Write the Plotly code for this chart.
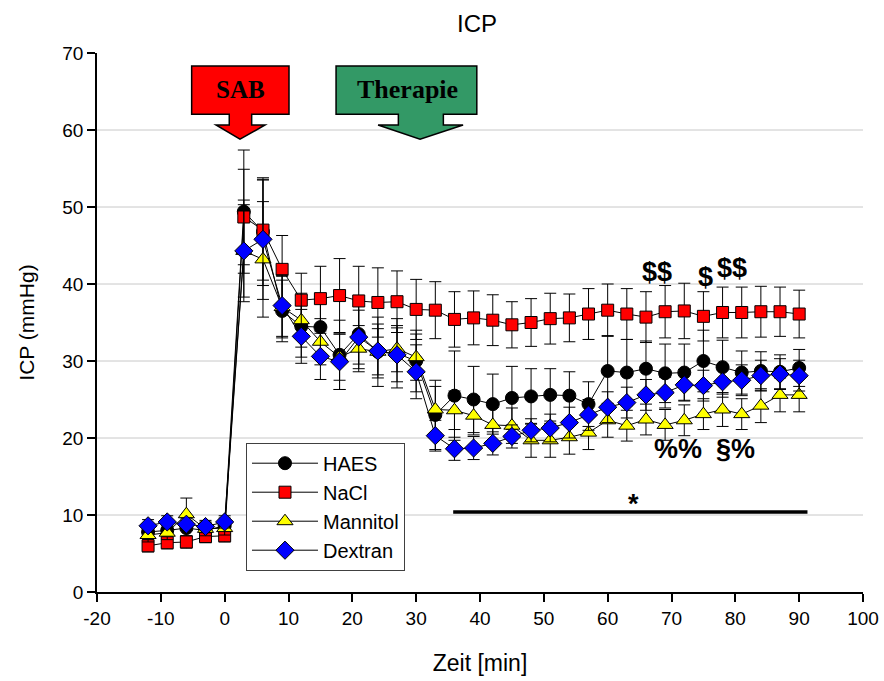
import plotly.graph_objects as go

# ---------------- data ----------------
time_min = [-12, -9, -6, -3, 0, 3, 6, 9, 12, 15, 18, 21, 24, 27, 30, 33, 36, 39, 42, 45,
            48, 51, 54, 57, 60, 63, 66, 69, 72, 75, 78, 81, 84, 87, 90]

haes = [7.8, 8.0, 8.3, 8.0, 8.6, 49.4, 46.8, 36.5, 34.5, 34.4, 30.8, 33.5, 31.2, 31.0, 30.0,
        23.0, 25.5, 25.0, 24.4, 25.2, 25.4, 25.6, 25.5, 24.4, 28.7, 28.5, 29.0, 28.4, 28.5,
        30.0, 29.2, 28.5, 28.7, 28.6, 29.1]
haes_err = [1.0, 1.0, 1.0, 1.0, 1.0, 8.0, 7.0, 4.0, 4.0, 4.0, 4.5, 4.5, 4.5, 4.5, 4.0,
            4.5, 5.8, 4.3, 3.9, 4.1, 3.6, 3.4, 3.1, 2.9, 4.6, 4.3, 3.6, 3.8, 3.7,
            4.0, 3.5, 2.8, 2.5, 2.2, 2.4]

nacl = [6.0, 6.4, 6.5, 7.2, 7.3, 48.7, 47.0, 41.9, 37.9, 38.1, 38.5, 37.8, 37.6, 37.7, 36.7,
        36.6, 35.4, 35.6, 35.3, 34.7, 35.0, 35.5, 35.6, 36.1, 36.6, 36.1, 35.7, 36.4, 36.5,
        35.8, 36.3, 36.3, 36.4, 36.4, 36.1]
nacl_err = [0.8, 0.8, 0.8, 0.8, 0.8, 6.2, 6.5, 4.4, 3.5, 4.2, 4.8, 4.5, 4.5, 4.0, 3.9,
            3.7, 3.6, 3.5, 3.3, 3.0, 3.1, 3.3, 3.1, 3.3, 3.4, 3.3, 3.3, 3.4, 3.6,
            3.2, 3.3, 3.3, 3.3, 3.2, 3.1]

mannitol = [7.4, 7.7, 10.1, 8.2, 8.3, 44.3, 43.2, 37.0, 35.3, 32.5, 30.5, 31.6, 31.2, 31.6, 30.5,
            23.7, 23.6, 22.9, 21.7, 21.6, 19.7, 19.7, 20.1, 20.7, 22.3, 21.6, 22.4, 21.7, 22.3,
            23.1, 23.7, 23.1, 24.2, 25.6, 25.6]
mannitol_err = [0.9, 0.9, 2.1, 0.9, 0.9, 6.6, 7.5, 4.0, 3.5, 3.0, 3.0, 3.0, 3.0, 3.0, 3.0,
                3.0, 2.5, 2.5, 2.3, 2.3, 2.2, 2.2, 2.2, 2.2, 2.2, 2.0, 2.0, 2.0, 2.0,
                2.0, 2.2, 2.0, 2.2, 2.2, 2.2]

dextran = [8.6, 9.1, 8.8, 8.5, 9.1, 44.3, 45.8, 37.2, 33.2, 30.6, 29.9, 33.1, 31.3, 30.8, 28.6,
           20.3, 18.6, 18.7, 19.3, 20.2, 21.0, 21.3, 22.0, 23.0, 24.0, 24.6, 25.6, 25.9, 26.9,
           26.8, 27.3, 27.5, 28.1, 28.3, 28.1]
dextran_err = [0.8, 0.8, 0.8, 0.8, 0.8, 6.0, 7.8, 4.0, 3.5, 3.0, 3.6, 3.5, 3.5, 3.5, 3.5,
               2.0, 1.5, 1.5, 1.5, 1.5, 1.5, 1.8, 2.0, 2.0, 2.0, 2.0, 2.0, 2.0, 2.0,
               2.0, 2.0, 2.0, 2.0, 2.0, 2.0]

series_names = ["HAES", "NaCl", "Mannitol", "Dextran"]
series_values = [haes, nacl, mannitol, dextran]
series_errors = [haes_err, nacl_err, mannitol_err, dextran_err]
series_colors = ["#000000", "#FF0000", "#FFFF00", "#0000FF"]
series_symbols = ["circle", "square", "triangle-up", "diamond"]
series_sizes = [13, 12, 14, 14]

y_ticks = [0, 10, 20, 30, 40, 50, 60, 70]
y_tick_labels = ["0", "10", "20", "30", "40", "50", "60", "70"]
x_ticks = [-20, -10, 0, 10, 20, 30, 40, 50, 60, 70, 80, 90, 100]
x_tick_labels = ["-20", "-10", "0", "10", "20", "30", "40", "50", "60", "70", "80", "90", "100"]

FONT = "Liberation Sans, Arial, sans-serif"
SERIF = "Liberation Serif, Times New Roman, serif"

fig = go.Figure()

for name, vals, errs, col, sym, sz in zip(series_names, series_values, series_errors,
                                           series_colors, series_symbols, series_sizes):
    fig.add_trace(go.Scatter(
        x=time_min, y=vals, name=name, mode="lines+markers",
        line=dict(color="black", width=1),
        marker=dict(symbol=sym, size=sz, color=col, line=dict(color="black", width=1)),
        error_y=dict(type="data", array=errs, visible=True, color="black",
                     thickness=1, width=6),
    ))

shapes = []
# horizontal grid lines
for yv in y_ticks[1:-1]:
    shapes.append(dict(type="line", xref="x", yref="y", x0=-20, x1=100, y0=yv, y1=yv,
                       line=dict(color="#C8C8C8", width=1), layer="below"))


def arrow_path(xl, xr, xs0, xs1, xh0, xh1, xtip, ytop, ybox, yhead, ytip):
    pts = [(xl, ytop), (xr, ytop), (xr, ybox), (xs1, ybox), (xs1, yhead), (xh1, yhead),
           (xtip, ytip), (xh0, yhead), (xs0, yhead), (xs0, ybox), (xl, ybox)]
    return "M " + " L ".join(f"{a},{b}" for a, b in pts) + " Z"


# SAB arrow
shapes.append(dict(type="path", xref="x", yref="y",
                   path=arrow_path(-5.17, 10.08, 0.72, 4.23, -1.36, 6.32, 2.40,
                                   68.3, 62.05, 60.65, 58.8),
                   fillcolor="#FF0000", line=dict(color="black", width=1.5), layer="above"))
# Therapie arrow
shapes.append(dict(type="path", xref="x", yref="y",
                   path=arrow_path(17.45, 39.50, 27.21, 34.26, 24.03, 37.35, 30.61,
                                   68.3, 62.05, 60.65, 58.8),
                   fillcolor="#339966", line=dict(color="black", width=1.5), layer="above"))
# significance bar
shapes.append(dict(type="line", xref="x", yref="y", x0=35.8, x1=91.3, y0=10.4, y1=10.4,
                   line=dict(color="black", width=3.5)))

annotations = [
    dict(x=2.45, y=65.2, text="<b>SAB</b>", showarrow=False,
         font=dict(family=SERIF, size=25, color="black")),
    dict(x=28.6, y=65.2, text="<b>Therapie</b>", showarrow=False,
         font=dict(family=SERIF, size=26, color="black")),
]
sig_marks = [("$$", 67.8, 41.6), ("$", 75.4, 40.9), ("$$", 79.5, 42.1),
             ("%%", 71.0, 18.6), ("§%", 80.0, 18.6), ("*", 64.0, 11.4)]
for txt, xv, yv in sig_marks:
    annotations.append(dict(x=xv, y=yv, text=f"<b>{txt}</b>", showarrow=False,
                            font=dict(family=FONT, size=27, color="black")))

fig.update_layout(
    width=884, height=681,
    margin=dict(l=97, r=21, t=53, b=89),
    paper_bgcolor="white", plot_bgcolor="white",
    font=dict(family=FONT, color="black"),
    title=dict(text="ICP", x=477 / 884, xanchor="center", y=0.966, yanchor="middle",
               xref="container", yref="container",
               font=dict(family=FONT, size=24, color="black")),
    showlegend=True,
    legend=dict(x=0.1945, y=0.277, xanchor="left", yanchor="top",
                bgcolor="white", bordercolor="#404040", borderwidth=1,
                font=dict(family=FONT, size=20, color="black"),
                itemwidth=66, traceorder="normal"),
    shapes=shapes,
    annotations=annotations,
)

fig.update_xaxes(range=[-20, 100], tickvals=x_ticks, ticktext=x_tick_labels,
                 ticks="outside", ticklen=8, automargin=False,
                 tickwidth=1.5, tickcolor="black", showline=True, linecolor="black",
                 linewidth=1.5, showgrid=False, zeroline=False,
                 tickfont=dict(family=FONT, size=19, color="black"),
                 title=dict(text="Zeit [min]", standoff=27,
                            font=dict(family=FONT, size=23, color="black")))
fig.update_yaxes(range=[0, 70], tickvals=y_ticks, ticktext=y_tick_labels,
                 ticks="outside", ticklen=8, automargin=False,
                 tickwidth=1.5, tickcolor="black", showline=True, linecolor="black",
                 linewidth=1.5, showgrid=False, zeroline=False,
                 tickfont=dict(family=FONT, size=19, color="black"),
                 title=dict(text="ICP (mmHg)", standoff=22,
                            font=dict(family=FONT, size=21, color="black")))

fig.write_html("out.html")
